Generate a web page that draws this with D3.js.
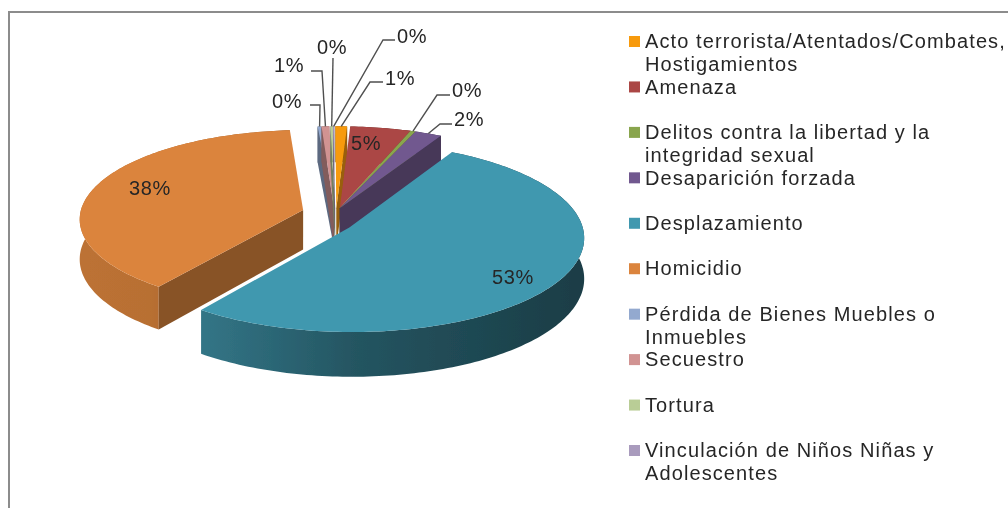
<!DOCTYPE html>
<html>
<head>
<meta charset="utf-8">
<script src="https://cdn.jsdelivr.net/npm/d3@7"></script>
<style>
html, body { margin: 0; padding: 0; background: #fff; overflow: hidden; }
text { font-family: "Liberation Sans", Arial, sans-serif; fill: #262626; }
</style>
</head>
<body>
<svg width="1008" height="508"></svg>
<script>
var categories = ["Acto terrorista/Atentados/Combates,", "Amenaza", "Delitos contra la libertad y la", "Desaparición forzada", "Desplazamiento", "Homicidio", "Pérdida de Bienes Muebles o", "Secuestro", "Tortura", "Vinculación de Niños Niñas y"];
var secondLines = ["Hostigamientos", "", "integridad sexual", "", "", "", "Inmuebles", "", "", "Adolescentes"];
var values = [0.9, 4.7, 0.4, 2.1, 52.1, 38.8, 0.3, 0.6, 0.2, 0.1];
var percentLabels = ["1%", "5%", "0%", "2%", "53%", "38%", "0%", "1%", "0%", "0%"];
var colors = ["#f79a0b", "#ab4744", "#89a54e", "#71588f", "#4198af", "#db843d", "#93a9cf", "#d19392", "#b9cd96", "#a99bbd"];

// how far each slice is pulled out (world units, x right, y toward the viewer)
var explodeX = [0.045, 0.06, 0.06, 0.06, 0.10, -0.10, 0.035, 0.035, 0.04, 0.04];
var explodeY = [-0.15, -0.15, -0.15, -0.15, 0.06, -0.13, -0.15, -0.15, -0.15, -0.15];
// homicidio sits further back in the reference, so it draws a bit smaller
var sliceScale = [1, 1, 1, 1, 1, 0.97, 1, 1, 1, 1];

var labelX = [400, 366, 467, 469, 513, 150, 287, 289, 332, 412];
var labelY = [78, 143, 90, 119, 277, 188, 101, 65, 47, 36];
var elbowX = [370, null, 437, 440, null, null, 320, 322, 333, 383];
var elbowY = [82, null, 95, 124, null, null, 105, 71, 58, 40];
var stubX = [383, null, 450, 452, null, null, 310, 311, 333, 395];

var svg = d3.select("svg");
var defs = svg.append("defs");
defs.append("filter").attr("id", "soft")
  .append("feGaussianBlur").attr("stdDeviation", 0.4);

var root = svg.append("g").attr("filter", "url(#soft)");

root.append("path")
  .attr("d", "M9,508V12H1008")
  .attr("fill", "none")
  .attr("stroke", "#8c8c8c")
  .attr("stroke-width", 2);

var cx = 326, cy = 222, R = 232, tilt = 0.40, persp = 0.10, thick = 40;

function project(wx, wy, down) {
  var s = 1 / (1 - persp * wy);
  return [cx + wx * R * s, cy + wy * R * tilt * s + (down ? thick * s : 0)];
}

var line = d3.line();

var pie = d3.pie().sort(null).value(function(d) { return d; });
var arcs = pie(values);

function rimPoint(d, i, a, down) {
  return project(explodeX[i] + sliceScale[i] * Math.sin(a), explodeY[i] - sliceScale[i] * Math.cos(a), down);
}
function apexPoint(i, down) {
  return project(explodeX[i], explodeY[i], down);
}
function rimPoints(d, i, down) {
  var n = Math.max(2, Math.ceil((d.endAngle - d.startAngle) / 0.02));
  return d3.range(n + 1).map(function(k) {
    return rimPoint(d, i, d.startAngle + (d.endAngle - d.startAngle) * k / n, down);
  });
}

var shadeX = d3.scaleLinear().domain([86, 150, 360, 580]).range([0.86, 0.84, 0.55, 0.40]);

colors.forEach(function(c, i) {
  var g = defs.append("linearGradient")
    .attr("id", "wall" + i)
    .attr("gradientUnits", "userSpaceOnUse")
    .attr("x1", 86).attr("x2", 580).attr("y1", 0).attr("y2", 0);
  shadeX.domain().forEach(function(x) {
    g.append("stop")
      .attr("offset", (x - 86) / (580 - 86))
      .attr("stop-color", darker(c, shadeX(x)));
  });
});

function darker(c, f) {
  var col = d3.rgb(c);
  return d3.rgb(col.r * f, col.g * f, col.b * f).formatHex();
}

// back to front
var drawOrder = [6, 7, 8, 9, 0, 1, 2, 3, 5, 4];

drawOrder.forEach(function(i) {
  var d = arcs[i];
  var g = root.append("g");

  // outer wall
  var topRim = rimPoints(d, i, false);
  var bottomRim = rimPoints(d, i, true).reverse();
  g.append("path")
    .attr("d", line(topRim.concat(bottomRim)) + "Z")
    .attr("fill", "url(#wall" + i + ")");

  // flat cut faces, only the ones turned toward the viewer
  var faces = [];
  if (Math.sin(d.startAngle) < 0) faces.push(d.startAngle);
  if (Math.sin(d.endAngle) > 0) faces.push(d.endAngle);
  faces.forEach(function(a) {
    var quad = [apexPoint(i, false), rimPoint(d, i, a, false), rimPoint(d, i, a, true), apexPoint(i, true)];
    g.append("path")
      .attr("d", line(quad) + "Z")
      .attr("fill", darker(colors[i], 0.62));
  });

  // top face
  g.append("path")
    .attr("d", line([apexPoint(i, false)].concat(topRim)) + "Z")
    .attr("fill", colors[i]);
});

// leader lines
arcs.forEach(function(d, i) {
  if (elbowX[i] === null) return;
  var a = (d.startAngle + d.endAngle) / 2;
  root.append("path")
    .attr("d", line([rimPoint(d, i, a, false), [elbowX[i], elbowY[i]], [stubX[i], elbowY[i]]]))
    .attr("fill", "none")
    .attr("stroke", "#505050")
    .attr("stroke-width", 1.4);
});

root.selectAll(".pct")
  .data(percentLabels)
  .enter().append("text")
  .attr("class", "pct")
  .attr("x", function(d, i) { return labelX[i]; })
  .attr("y", function(d, i) { return labelY[i]; })
  .attr("dy", "0.36em")
  .attr("text-anchor", "middle")
  .attr("font-size", 20)
  .attr("letter-spacing", 0.6)
  .text(function(d) { return d; });

// legend
var rowY = d3.scalePoint().domain(categories).range([41, 450]);

var legend = root.selectAll(".legend")
  .data(categories)
  .enter().append("g")
  .attr("class", "legend")
  .attr("transform", function(d) { return "translate(629," + rowY(d) + ")"; });

legend.append("rect")
  .attr("y", -5)
  .attr("width", 11)
  .attr("height", 11)
  .attr("fill", function(d, i) { return colors[i]; });

legend.append("text")
  .attr("x", 16)
  .attr("dy", "0.36em")
  .attr("font-size", 20)
  .attr("letter-spacing", 1.1)
  .text(function(d) { return d; });

legend.append("text")
  .attr("x", 16)
  .attr("y", 23)
  .attr("dy", "0.36em")
  .attr("font-size", 20)
  .attr("letter-spacing", 1.1)
  .text(function(d, i) { return secondLines[i]; });
</script>
</body>
</html>
